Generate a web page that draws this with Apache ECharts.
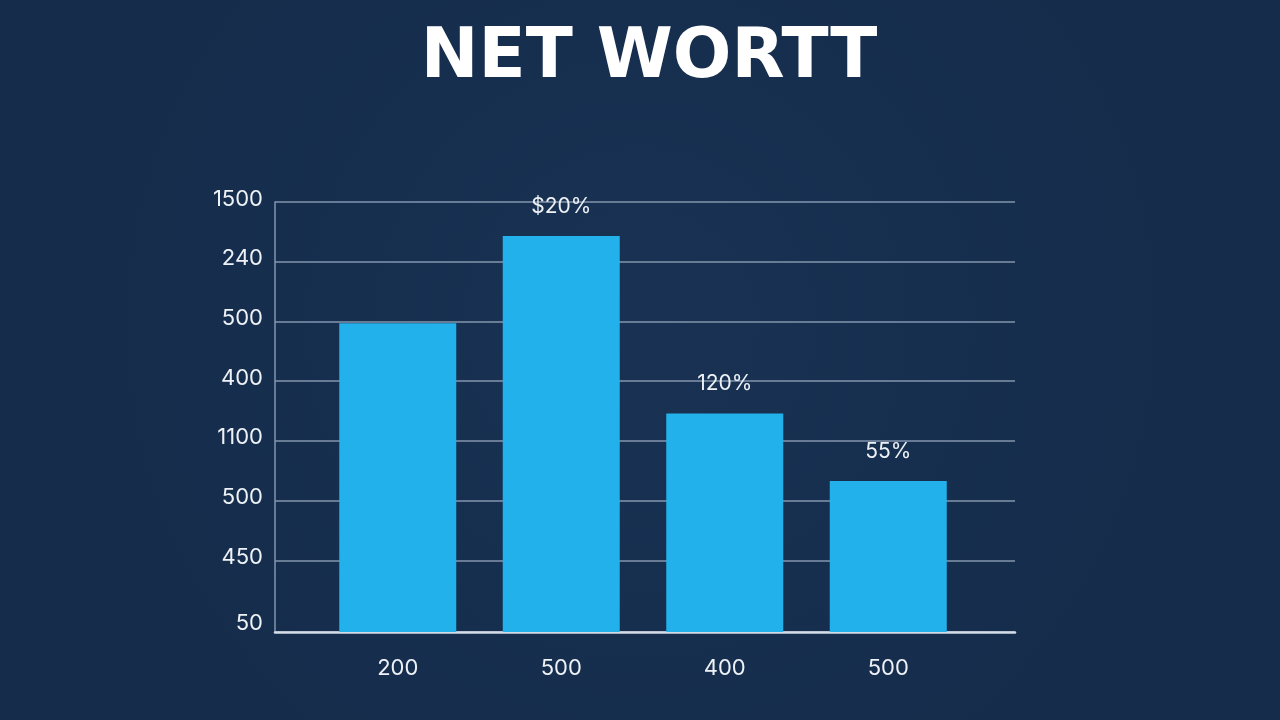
<!DOCTYPE html>
<html>
<head>
<meta charset="utf-8">
<script src="https://cdn.jsdelivr.net/npm/echarts@6/dist/echarts.min.js"></script>
<style>
  html, body { margin: 0; padding: 0; background: #172f4f; }
  #chart { width: 1280px; height: 720px; }
</style>
</head>
<body>
<div id="chart"></div>
<script>
// ---- data ----
var titleText = 'NET WORTT';
var categories = ['200', '500', '400', '500'];
var values = [517, 663, 366, 253];
var barLabels = ['', '$20%', '120%', '55%'];
var tickValues = [0, 120, 220, 320, 420, 520, 620, 720];
var tickLabels = ['50', '450', '500', '1100', '400', '500', '240', '1500'];

var FONT = 'Inter, "Open Sans", "Noto Sans", sans-serif';
var chart = echarts.init(document.getElementById('chart'));

chart.setOption({
  backgroundColor: {
    type: 'radial', x: 0.5, y: 0.45, r: 0.8,
    colorStops: [
      { offset: 0, color: '#193253' },
      { offset: 1, color: '#152c4b' }
    ]
  },
  title: {
    text: titleText,
    left: 644,
    textAlign: 'center',
    top: 20,
    textStyle: { color: '#ffffff', fontSize: 69, fontWeight: 'bold', fontFamily: '"DejaVu Sans", sans-serif' }
  },
  grid: [
    { left: 275, right: 265, top: 202, bottom: 88 },
    { left: 316, right: 310, top: 202, bottom: 88 }
  ],
  xAxis: [
    {
      gridIndex: 0, type: 'value', min: 0, max: 1,
      axisLine: { show: true, onZero: false, lineStyle: { color: '#d3dbe6', width: 2.5 } },
      axisTick: { show: false }, axisLabel: { show: false }, splitLine: { show: false }
    },
    {
      gridIndex: 1, type: 'category', data: categories,
      axisLine: { show: false }, axisTick: { show: false }, splitLine: { show: false },
      axisLabel: { color: '#eef2f7', fontSize: 22, fontFamily: FONT, margin: 25 }
    }
  ],
  yAxis: [
    {
      gridIndex: 0, type: 'value', min: 0, max: 720,
      axisLine: { show: true, lineStyle: { color: '#8596ae', width: 1.5 } },
      axisTick: { show: false, customValues: tickValues },
      splitLine: { show: true, lineStyle: { color: '#8596ae', width: 1.5 } },
      axisLabel: {
        customValues: tickValues,
        color: '#eef2f7', fontSize: 22, fontFamily: FONT, margin: 12,
        rich: {
          a: { color: '#eef2f7', fontSize: 22, fontFamily: FONT, padding: [0, 0, 6, 0] },
          b: { color: '#eef2f7', fontSize: 22, fontFamily: FONT, padding: [0, 0, 17, 0] }
        },
        formatter: function (v) {
          var i = tickValues.indexOf(v);
          if (i < 0) return '';
          return (i === 0 ? '{b|' : '{a|') + tickLabels[i] + '}';
        }
      }
    },
    {
      gridIndex: 1, type: 'value', min: 0, max: 720, show: false,
      splitLine: { show: false }
    }
  ],
  series: [
    {
      type: 'bar',
      xAxisIndex: 1, yAxisIndex: 1,
      barWidth: 117,
      itemStyle: { color: '#23b1ec' },
      label: {
        show: true, position: 'top', distance: 19,
        color: '#eef2f7', fontSize: 21, fontFamily: FONT,
        formatter: function (p) { return barLabels[p.dataIndex]; }
      },
      data: values,
      z: 3
    }
  ]
});
</script>
</body>
</html>
